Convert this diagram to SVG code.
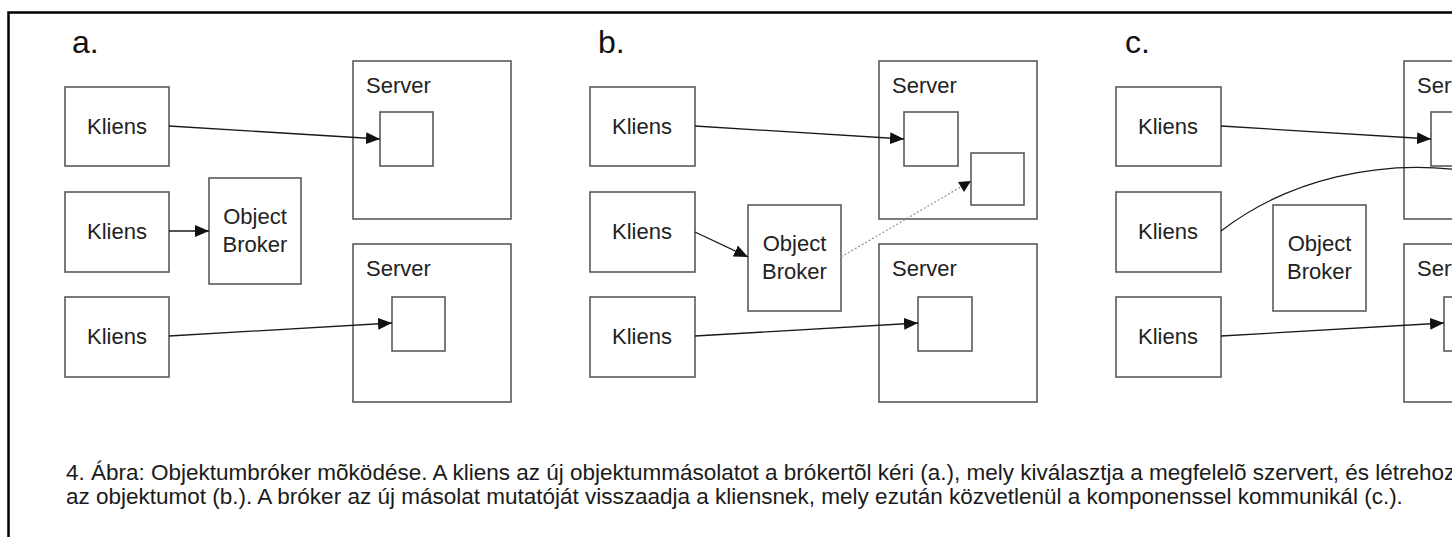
<svg xmlns="http://www.w3.org/2000/svg" width="1452" height="537" viewBox="0 0 1452 537">
  <style>
    .box { fill: #ffffff; stroke: #5a5a5a; stroke-width: 1.6; }
    .inner { fill: #ffffff; stroke: #5a5a5a; stroke-width: 1.6; }
    .lbl { font-family: "Liberation Sans", Arial, sans-serif; font-size: 22px; fill: #222; }
    .mid { text-anchor: middle; }
    .panel { font-family: "Liberation Sans", Arial, sans-serif; font-size: 32px; fill: #111; }
    .cap { font-family: "Liberation Sans", Arial, sans-serif; font-size: 22.5px; fill: #1a1a1a; }
    .edge { fill: none; stroke: #1a1a1a; stroke-width: 1.3; }
    .dotted { fill: none; stroke: #9a9a9a; stroke-width: 1.3; stroke-dasharray: 2 2; }
  </style>
  <defs>
    <marker id="arrow" markerUnits="userSpaceOnUse" markerWidth="14" markerHeight="12" refX="14" refY="6" orient="auto">
      <path d="M0,0 L14,6 L0,12 z" fill="#111"/>
    </marker>
  </defs>

  <rect width="1452" height="537" fill="#ffffff"/>
  <!-- frame -->
  <path d="M8.5,537 V12.5 H1452" fill="none" stroke="#000" stroke-width="2.5"/>

  <!-- panel titles -->
  <text class="panel" x="72" y="53">a.</text>
  <text class="panel" x="598" y="53">b.</text>
  <text class="panel" x="1125" y="53">c.</text>

  <!-- ===== panel a ===== -->
  <g id="a-kliens1"><rect class="box" x="65" y="87" width="104" height="79"/><text class="lbl mid" x="117" y="134">Kliens</text></g>
  <g id="a-kliens2"><rect class="box" x="65" y="192" width="104" height="80"/><text class="lbl mid" x="117" y="239">Kliens</text></g>
  <g id="a-kliens3"><rect class="box" x="65" y="297" width="104" height="80"/><text class="lbl mid" x="117" y="344">Kliens</text></g>
  <g id="a-broker"><rect class="box" x="209" y="178" width="92" height="106"/><text class="lbl mid" x="255" y="224">Object</text><text class="lbl mid" x="255" y="252">Broker</text></g>
  <g id="a-server1"><rect class="box" x="353" y="61" width="158" height="158"/><text class="lbl" x="366" y="93">Server</text><rect class="inner" x="380" y="112" width="53" height="54"/></g>
  <g id="a-server2"><rect class="box" x="353" y="244" width="158" height="158"/><text class="lbl" x="366" y="276">Server</text><rect class="inner" x="392" y="297" width="53" height="54"/></g>

  <!-- ===== panel b ===== -->
  <g id="b-kliens1"><rect class="box" x="590" y="87" width="105" height="79"/><text class="lbl mid" x="642" y="134">Kliens</text></g>
  <g id="b-kliens2"><rect class="box" x="590" y="192" width="105" height="80"/><text class="lbl mid" x="642" y="239">Kliens</text></g>
  <g id="b-kliens3"><rect class="box" x="590" y="297" width="105" height="80"/><text class="lbl mid" x="642" y="344">Kliens</text></g>
  <g id="b-broker"><rect class="box" x="748" y="205" width="93" height="106"/><text class="lbl mid" x="794.5" y="251">Object</text><text class="lbl mid" x="794.5" y="279">Broker</text></g>
  <g id="b-server1"><rect class="box" x="879" y="61" width="158" height="158"/><text class="lbl" x="892" y="93">Server</text><rect class="inner" x="904" y="112" width="54" height="54"/><rect class="inner" x="971" y="153" width="53" height="52"/></g>
  <g id="b-server2"><rect class="box" x="879" y="244" width="158" height="158"/><text class="lbl" x="892" y="276">Server</text><rect class="inner" x="918" y="297" width="54" height="54"/></g>

  <!-- ===== panel c ===== -->
  <g id="c-kliens1"><rect class="box" x="1116" y="87" width="105" height="79"/><text class="lbl mid" x="1168" y="134">Kliens</text></g>
  <g id="c-kliens2"><rect class="box" x="1116" y="192" width="105" height="80"/><text class="lbl mid" x="1168" y="239">Kliens</text></g>
  <g id="c-kliens3"><rect class="box" x="1116" y="297" width="105" height="80"/><text class="lbl mid" x="1168" y="344">Kliens</text></g>
  <g id="c-broker"><rect class="box" x="1273" y="205" width="93" height="106"/><text class="lbl mid" x="1319.5" y="251">Object</text><text class="lbl mid" x="1319.5" y="279">Broker</text></g>
  <g id="c-server1"><rect class="box" x="1404" y="61" width="158" height="158"/><text class="lbl" x="1417" y="93">Server</text><rect class="inner" x="1431" y="112" width="54" height="54"/></g>
  <g id="c-server2"><rect class="box" x="1404" y="244" width="158" height="158"/><text class="lbl" x="1417" y="276">Server</text><rect class="inner" x="1444" y="297" width="54" height="54"/></g>

  <!-- connectors -->
  <g id="connectors">
    <path class="edge" d="M169,126 L380,139" marker-end="url(#arrow)"/>
    <path class="edge" d="M169,231 L209,231" marker-end="url(#arrow)"/>
    <path class="edge" d="M169,336 L392,323" marker-end="url(#arrow)"/>

    <path class="edge" d="M695,126 L904,139" marker-end="url(#arrow)"/>
    <path class="edge" d="M695,232 L748,257" marker-end="url(#arrow)"/>
    <path class="edge" d="M695,336 L918,323" marker-end="url(#arrow)"/>
    <path class="dotted" d="M841,257 L971,181"/>
    <path d="M971,181 L958,182 L964,192 z" fill="#111"/>

    <path class="edge" d="M1221,126 L1431,139" marker-end="url(#arrow)"/>
    <path class="edge" d="M1221,231 C1290,178 1380,160 1460,170"/>
    <path class="edge" d="M1221,336 L1444,323" marker-end="url(#arrow)"/>
  </g>

  <!-- caption -->
  <text class="cap" x="66" y="480">4. Ábra: Objektumbróker mõködése. A kliens az új objektummásolatot a brókertõl kéri (a.), mely kiválasztja a megfelelõ szervert, és létrehozza</text>
  <text class="cap" x="66" y="504">az objektumot (b.). A bróker az új másolat mutatóját visszaadja a kliensnek, mely ezután közvetlenül a komponenssel kommunikál (c.).</text>
</svg>
